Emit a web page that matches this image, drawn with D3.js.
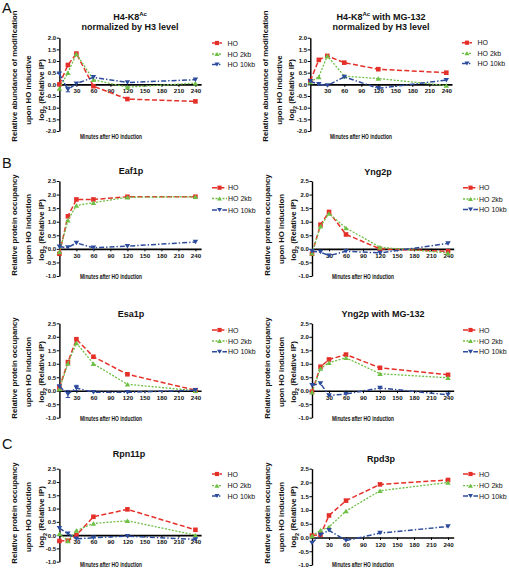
<!DOCTYPE html>
<html><head><meta charset="utf-8">
<script src="https://cdn.jsdelivr.net/npm/d3@7"></script>
<style>
html,body{margin:0;padding:0;background:#fff;}
svg text{font-family:"Liberation Sans",Arial,sans-serif;}
</style></head>
<body>
<svg id="chart" width="509" height="568"></svg>
<script>
// ---------- DATA ----------
const times = [0, 15, 30, 60, 120, 240];
const seriesNames = ["HO", "HO 2kb", "HO 10kb"];
const xTickValues = [30, 60, 90, 120, 150, 180, 210, 240];
const yTicksA = [-2.0, -1.5, -1.0, -0.5, 0.0, 0.5, 1.0, 1.5, 2.0];
const yTicksBC = [-1.0, -0.5, 0.0, 0.5, 1.0, 1.5, 2.0, 2.5];
const panelLetters = ["A", "B", "C"];
const titles = ["H4-K8|Ac|", "H4-K8|Ac| with MG-132", "Eaf1p", "Yng2p", "Esa1p", "Yng2p with MG-132", "Rpn11p", "Rpd3p"];
const subtitleA = "normalized by H3 level";
const xLabel = "Minutes after HO induction";
const yLabelA = ["Relative abundance of modification", "upon HO inductive", "log|2| (Relative IP)"];
const yLabelBC = ["Relative protein occupancy", "upon HO induction", "log|2| (Relative IP)"];

const h4k8_HO   = [0.00, 0.83, 1.32, -0.08, -0.63, -0.73];
const h4k8_2kb  = [-0.18, 0.50, 1.30, 0.20, -0.12, 0.05];
const h4k8_10kb = [0.45, -0.22, 0.03, 0.30, 0.08, 0.20];
const h4k8_10kb_err = [0, 0.10, 0, 0, 0, 0];

const h4k8mg_HO   = [0.15, 1.05, 1.22, 0.93, 0.65, 0.50];
const h4k8mg_2kb  = [0.10, 0.32, 1.22, 0.35, 0.25, -0.05];
const h4k8mg_10kb = [0.13, 0.00, -0.05, 0.32, -0.17, 0.18];

const eaf1_HO   = [-0.18, 1.20, 1.82, 1.82, 1.92, 1.92];
const eaf1_2kb  = [-0.12, 1.05, 1.60, 1.70, 1.90, 1.92];
const eaf1_10kb = [0.08, 0.05, 0.22, 0.04, 0.10, 0.25];

const yng2_HO   = [-0.18, 0.89, 1.36, 0.53, 0.00, -0.09];
const yng2_2kb  = [-0.16, 0.83, 1.30, 0.77, 0.06, -0.15];
const yng2_10kb = [-0.09, -0.12, -0.25, -0.09, -0.15, 0.20];

const esa1_HO   = [0.12, 1.06, 1.91, 1.26, 0.61, 0.02];
const esa1_2kb  = [0.06, 1.01, 1.77, 1.00, 0.24, 0.00];
const esa1_10kb = [0.16, -0.12, 0.10, -0.06, -0.06, 0.02];
const esa1_10kb_err = [0, 0.13, 0.10, 0, 0, 0];

const yng2mg_HO   = [-0.04, 0.89, 1.16, 1.34, 0.85, 0.59];
const yng2mg_2kb  = [-0.06, 0.82, 1.04, 1.22, 0.63, 0.48];
const yng2mg_10kb = [0.20, 0.27, -0.18, -0.12, 0.10, -0.15];

const rpn11_HO   = [-0.22, -0.21, 0.00, 0.69, 0.97, 0.20];
const rpn11_2kb  = [0.05, -0.22, 0.17, 0.44, 0.54, 0.00];
const rpn11_10kb = [0.26, 0.05, -0.14, -0.10, -0.04, -0.16];

const rpd3_HO   = [0.07, 0.10, 0.80, 1.34, 1.93, 2.09];
const rpd3_2kb  = [0.05, 0.26, 0.38, 0.96, 1.70, 2.00];
const rpd3_10kb = [-0.20, 0.10, 0.26, -0.11, 0.16, 0.40];

const panelData = [
  {series:[h4k8_HO, h4k8_2kb, h4k8_10kb], err10kb:h4k8_10kb_err},
  {series:[h4k8mg_HO, h4k8mg_2kb, h4k8mg_10kb]},
  {series:[eaf1_HO, eaf1_2kb, eaf1_10kb]},
  {series:[yng2_HO, yng2_2kb, yng2_10kb]},
  {series:[esa1_HO, esa1_2kb, esa1_10kb], err10kb:esa1_10kb_err},
  {series:[yng2mg_HO, yng2mg_2kb, yng2mg_10kb]},
  {series:[rpn11_HO, rpn11_2kb, rpn11_10kb]},
  {series:[rpd3_HO, rpd3_2kb, rpd3_10kb]}
];

// ---------- STYLE / LAYOUT ----------
const seriesStyle = [
  {color:"#e5302a", dash:"5,2.4", width:1.5, marker:"square"},
  {color:"#6fbf46", dash:"2,1.5", width:1.3, marker:"up"},
  {color:"#2d4b9c", dash:"5,2,1.4,2", width:1.5, marker:"down"}
];
const layout = [
  {x0:59.4, yTop:37.7, yBot:131, ticks:yTicksA, tY:[19.5,29.5], tX:130, xlY:138.5, xlX:111, legY:[43,54,64.5], legX:212, legLong:false, ylC:[76,90,90]},
  {x0:310.3, yTop:37.7, yBot:131, ticks:yTicksA, tY:[19.5,29.5], tX:381, xlY:138.5, xlX:361, legY:[42.7,53.3,63.5], legX:462, legLong:false, ylC:[76,90,90]},
  {x0:59.4, yTop:181, yBot:276, ticks:yTicksBC, tY:[174], tX:131, xlY:278.5, xlX:111, legY:[187.7,198.5,210], legX:212, legLong:true, ylC:[225,229,230]},
  {x0:312, yTop:181, yBot:276, ticks:yTicksBC, tY:[175], tX:378, xlY:278.5, xlX:363, legY:[187.7,199,209.5], legX:463, legLong:true, ylC:[225,229,230]},
  {x0:59.4, yTop:323.3, yBot:417.7, ticks:yTicksBC, tY:[316.5], tX:131, xlY:421, xlX:111, legY:[330,341,351.7], legX:212, legLong:true, ylC:[368,372,372]},
  {x0:312, yTop:323.3, yBot:417.7, ticks:yTicksBC, tY:[316.5], tX:383, xlY:421, xlX:363, legY:[330,341,351.7], legX:463, legLong:true, ylC:[368,372,372]},
  {x0:59.4, yTop:468.7, yBot:561.7, ticks:yTicksBC, tY:[456.5], tX:129, xlY:566.5, xlX:111, legY:[474,485.7,496], legX:212, legLong:false, ylC:[513,517,517]},
  {x0:312, yTop:468.7, yBot:565, ticks:yTicksBC, tY:[462], tX:381, xlY:566.5, xlX:363, legY:[474,485.7,496], legX:463, legLong:true, ylC:[513,517,517]}
];
const letterPos = [[2,12.5],[2,167.5],[2,449]];

const svg = d3.select("#chart");
const FONT = '"Liberation Sans",Arial,sans-serif';

function richText(sel, str, kind, small) {
  const parts = str.split("|");
  parts.forEach((p, i) => {
    if (!p) return;
    const t = sel.append("tspan").text(p);
    if (i % 2 === 1) t.attr("font-size", small).attr("baseline-shift", kind);
  });
}

function markerPath(type, size) {
  if (type === "square") return d3.symbol(d3.symbolSquare, size*size)();
  const h = size * 0.9, w = size * 0.55;
  if (type === "up") return `M0,${-h/2}L${w},${h/2}L${-w},${h/2}Z`;
  return `M0,${h/2}L${w},${-h/2}L${-w},${-h/2}Z`;
}

panelLetters.forEach((L, i) => {
  svg.append("text").attr("x", letterPos[i][0]).attr("y", letterPos[i][1])
    .attr("font-size", 14.5).attr("fill", "#111").text(L);
});

layout.forEach((cfg, pi) => {
  const pd = panelData[pi];
  const x = d3.scaleLinear().domain([0, 250]).range([cfg.x0, cfg.x0 + 141.7]);
  const y = d3.scaleLinear().domain(d3.extent(cfg.ticks)).range([cfg.yBot, cfg.yTop]);
  const g = svg.append("g");

  // title
  const tt = g.append("text").attr("x", cfg.tX).attr("y", cfg.tY[0])
    .attr("text-anchor", "middle").attr("font-size", 9).attr("font-weight", "bold").attr("fill", "#111");
  if (titles[pi].includes("|")) {
    const parts = titles[pi].split("|");
    tt.append("tspan").text(parts[0]);
    tt.append("tspan").text(parts[1]).attr("font-size", 6).attr("dy", -3.5);
    tt.append("tspan").text(parts[2]).attr("dy", 3.5);
  } else tt.text(titles[pi]);
  if (cfg.tY.length > 1) {
    g.append("text").attr("x", cfg.tX).attr("y", cfg.tY[1]).attr("text-anchor", "middle")
      .attr("font-size", 9).attr("font-weight", "bold").attr("fill", "#111").text(subtitleA);
  }

  // y axis
  const yAxis = d3.axisLeft(y).tickValues(cfg.ticks).tickSize(2.6).tickSizeOuter(0).tickPadding(0.6)
    .tickFormat(d => d.toFixed(1));
  const ya = g.append("g").attr("transform", `translate(${cfg.x0},0)`).call(yAxis);
  ya.select(".domain").attr("stroke", "#000").attr("stroke-width", 1.4);
  ya.selectAll(".tick line").attr("stroke", "#000").attr("stroke-width", 1);
  ya.selectAll(".tick text").attr("font-size", 6.0).attr("font-weight", "bold")
    .attr("font-family", FONT).attr("fill", "#111");

  // x axis at y=0
  const xAxis = d3.axisBottom(x).tickValues(xTickValues).tickSize(2.5).tickSizeOuter(0).tickPadding(2.2);
  const xa = g.append("g").attr("transform", `translate(0,${y(0)})`).call(xAxis);
  xa.select(".domain").attr("stroke", "#000").attr("stroke-width", 1.6);
  xa.selectAll(".tick line").attr("stroke", "#000").attr("stroke-width", 1);
  xa.selectAll(".tick text").attr("font-size", 6.2).attr("font-weight", "bold")
    .attr("font-family", FONT).attr("fill", "#111");

  // x label
  g.append("text").attr("x", cfg.xlX).attr("y", cfg.xlY).attr("text-anchor", "middle")
    .attr("font-size", 7.2).attr("font-weight", "bold").attr("fill", "#111")
    .attr("textLength", 62).attr("lengthAdjust", "spacingAndGlyphs").text(xLabel);

  // y label lines
  const yl = pi < 2 ? yLabelA : yLabelBC;
  const offs = [-45, -31, -18.6];
  yl.forEach((line, li) => {
    const cx = cfg.x0 + offs[li] + 2.7;
    const t = g.append("text").attr("transform", `translate(${cx},${cfg.ylC[li]}) rotate(-90)`)
      .attr("text-anchor", "middle").attr("font-size", 7.8).attr("font-weight", "bold").attr("fill", "#111");
    richText(t, line, "sub", 5.5);
  });

  // series
  const line = d3.line().x(d => x(d[0])).y(d => y(d[1]));
  pd.series.forEach((vals, si) => {
    const st = seriesStyle[si];
    const pts = times.map((t, i) => [t, vals[i]]);
    const errArr = (si === 2 && pd.err10kb) ? pd.err10kb : null;
    if (errArr) {
      pts.forEach((p, i) => {
        if (!errArr[i]) return;
        const xx = x(p[0]);
        g.append("line").attr("x1", xx).attr("x2", xx).attr("y1", y(p[1] - errArr[i])).attr("y2", y(p[1] + errArr[i]))
          .attr("stroke", st.color).attr("stroke-width", 1);
        [p[1] - errArr[i], p[1] + errArr[i]].forEach(v => {
          g.append("line").attr("x1", xx - 2.2).attr("x2", xx + 2.2).attr("y1", y(v)).attr("y2", y(v))
            .attr("stroke", st.color).attr("stroke-width", 1);
        });
      });
    }
    g.append("path").datum(pts).attr("d", line).attr("fill", "none")
      .attr("stroke", st.color).attr("stroke-width", st.width).attr("stroke-dasharray", st.dash);
    g.selectAll(null).data(pts).enter().append("path")
      .attr("transform", d => `translate(${x(d[0])},${y(d[1])})`)
      .attr("d", markerPath(st.marker, st.marker === "square" ? 4.6 : 5))
      .attr("fill", st.color);
  });

  // legend
  seriesNames.forEach((name, si) => {
    const st = seriesStyle[si];
    const ly = cfg.legY[si];
    const x1 = cfg.legX, x2 = cfg.legX + (cfg.legLong ? 15 : 10);
    g.append("line").attr("x1", x1).attr("x2", x2).attr("y1", ly).attr("y2", ly)
      .attr("stroke", st.color).attr("stroke-width", st.width).attr("stroke-dasharray", st.dash);
    g.append("path").attr("transform", `translate(${(x1 + x2) / 2},${ly})`)
      .attr("d", markerPath(st.marker, st.marker === "square" ? 4.2 : 4.6)).attr("fill", st.color);
    g.append("text").attr("x", cfg.legLong ? x2 + 1 : x2 + 5.5).attr("y", ly + 2.5)
      .attr("font-size", 7).attr("fill", "#111").text(name);
  });
});
</script>
</body></html>
